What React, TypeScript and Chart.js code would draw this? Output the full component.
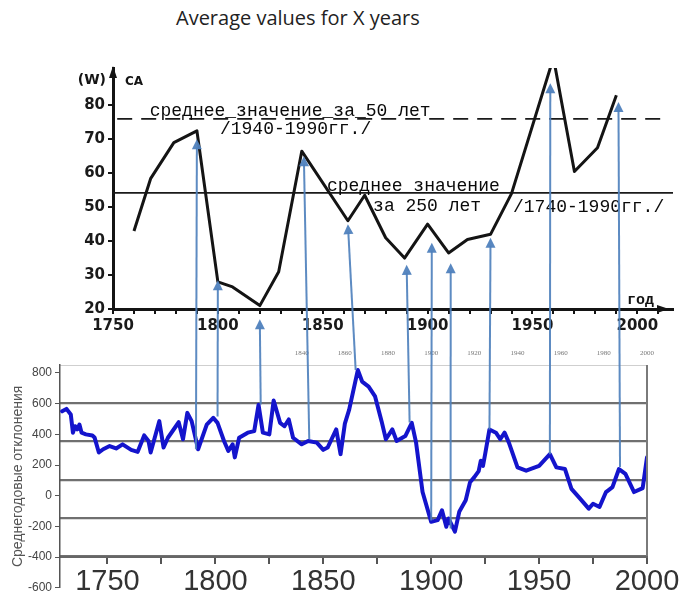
import React, { useEffect, useRef } from 'react';
import { Chart, registerables } from 'chart.js';

Chart.register(...registerables);

// Upper panel: solar activity index (W), polyline vertices
const solarYears = [1760, 1768, 1779, 1790, 1800, 1807, 1820, 1829, 1840, 1862, 1870, 1880, 1889, 1900, 1910, 1919, 1930, 1940, 1960, 1970, 1981, 1990];
const solarValues = [43, 58.5, 69, 72.5, 28, 26.5, 21, 31, 66.5, 46, 53.5, 41, 35, 45, 36.5, 40.5, 42, 54, 94, 60.5, 67.5, 83];

// Reference levels of the upper panel
const avg50 = 76;
const avg250 = 54.2;

// Upper panel axis labels
const topYearLabels = [1750, 1800, 1850, 1900, 1950, 2000];
const topValueLabels = [20, 30, 40, 50, 60, 70, 80];

// Upper panel captions
const noteTexts = ['среднее_значение_за_50 лет', '/1940-1990гг./', 'среднее значение', 'за 250 лет', '/1740-1990гг./'];
const noteYears = [1767.5, 1801, 1852, 1874, 1940.7];
const noteValues = [76.9, 71.6, 54.8, 48.9, 48.6];

// Lower panel: mean annual deviations
const devYears = [1729, 1731, 1733, 1734, 1735, 1736, 1737, 1738, 1740, 1743, 1744, 1746, 1748, 1751, 1754, 1757, 1761, 1764, 1767, 1769, 1770, 1774, 1776, 1778, 1783, 1785, 1787, 1789, 1792, 1796, 1799, 1801, 1804, 1806, 1808, 1809, 1811, 1815, 1818, 1820, 1822, 1825, 1827, 1830, 1832, 1834, 1836, 1840, 1843, 1847, 1850, 1852, 1856, 1858, 1860, 1862, 1866, 1868, 1871, 1874, 1877, 1879, 1882, 1884, 1888, 1891, 1893, 1896, 1900, 1903, 1905, 1907, 1908, 1911, 1913, 1916, 1918, 1920, 1922, 1923, 1924, 1925, 1927, 1930, 1932, 1934, 1936, 1940, 1944, 1950, 1955, 1958, 1962, 1965, 1969, 1973, 1975, 1978, 1981, 1984, 1987, 1990, 1994, 1998, 2000];
const devValues = [550, 566, 529, 411, 453, 432, 464, 411, 400, 393, 380, 282, 303, 324, 308, 335, 299, 286, 393, 357, 282, 486, 314, 378, 479, 368, 540, 486, 303, 464, 508, 475, 357, 292, 335, 250, 378, 411, 421, 593, 411, 400, 621, 475, 453, 497, 378, 335, 357, 346, 299, 314, 432, 271, 470, 561, 819, 744, 711, 647, 486, 368, 432, 357, 389, 475, 346, 24, -170, -159, -95, -202, -148, -234, -105, -30, 88, 121, 160, 228, 195, 271, 432, 411, 368, 411, 346, 185, 163, 195, 271, 185, 174, 45, -19, -84, -52, -73, 24, 56, 174, 142, 24, 50, 250];

// Lower panel axis labels
const bottomYearLabels = [1750, 1800, 1850, 1900, 1950, 2000];
const bottomValueLabels = [-600, -400, -200, 0, 200, 400, 600, 800];
const smallYearLabels = [1840, 1860, 1880, 1900, 1920, 1940, 1960, 1980, 2000];

// Links: from a point of the lower curve to a point of the upper curve
const linkBaseYears = [1791, 1801, 1821, 1843.5, 1865, 1890, 1900, 1909, 1927, 1955, 1987.5];
const linkBaseValues = [303, 516, 594, 368, 819, 477, -161, -213, 432, 271, 187];
const linkTipYears = [1790, 1800, 1820, 1841, 1862, 1890, 1902, 1911, 1930, 1958.5, 1991];
const linkTipValues = [70, 28.5, 17, 65, 45, 33, 39.5, 33.5, 41, 86.5, 81];

const range = (a: number, b: number, step: number) => {
  const out: number[] = [];
  for (let v = a; v <= b; v += step) out.push(v);
  return out;
};

function filledTriangle(ctx: CanvasRenderingContext2D, tx: number, ty: number, angle: number, len: number, half: number) {
  const bx = tx - Math.cos(angle) * len;
  const by = ty - Math.sin(angle) * len;
  const nx = -Math.sin(angle) * half;
  const ny = Math.cos(angle) * half;
  ctx.beginPath();
  ctx.moveTo(tx, ty);
  ctx.lineTo(bx + nx, by + ny);
  ctx.lineTo(bx - nx, by - ny);
  ctx.closePath();
  ctx.fill();
}

const topDecor = {
  id: 'topDecor',
  afterDraw(chart: any) {
    const { ctx, chartArea } = chart;
    const xs = chart.scales.x;
    const ys = chart.scales.y;
    ctx.save();
    ctx.fillStyle = '#141414';
    // axis arrow heads
    filledTriangle(ctx, xs.left, chartArea.top - 2, -Math.PI / 2, 12, 4);
    filledTriangle(ctx, chartArea.right - 4, ys.bottom, 0, 12, 4);
    // axis captions
    ctx.font = 'bold 14px "DejaVu Sans"';
    ctx.textAlign = 'right';
    ctx.textBaseline = 'alphabetic';
    ctx.fillText('(W)', xs.left - 7, chartArea.top + 16);
    ctx.font = 'bold 12px "DejaVu Sans"';
    ctx.textAlign = 'left';
    ctx.fillText('CA', xs.left + 12, chartArea.top + 17);
    ctx.font = 'bold 15px "Liberation Mono"';
    ctx.fillText('год', chartArea.right - 46, ys.bottom - 5);
    // captions of the reference levels
    ctx.fillStyle = '#0a0a0a';
    ctx.font = '18px "Liberation Mono"';
    noteTexts.forEach((t, i) => {
      ctx.fillText(t, xs.getPixelForValue(noteYears[i]), ys.getPixelForValue(noteValues[i]));
    });
    ctx.restore();
  },
};

function makeLinks(getTop: () => Chart | null) {
  return {
    id: 'links',
    afterDraw(chart: any) {
      const top: any = getTop();
      if (!top) return;
      const { ctx } = chart;
      const bx = chart.scales.x;
      const by = chart.scales.y;
      const tx = top.scales.x;
      const ty = top.scales.y;
      ctx.save();
      ctx.strokeStyle = 'rgba(79,129,189,0.92)';
      ctx.fillStyle = 'rgba(79,129,189,0.95)';
      ctx.lineWidth = 2;
      for (let i = 0; i < linkBaseYears.length; i++) {
        const x1 = bx.getPixelForValue(linkBaseYears[i]);
        const y1 = by.getPixelForValue(linkBaseValues[i]);
        const x2 = tx.getPixelForValue(linkTipYears[i]);
        const y2 = ty.getPixelForValue(linkTipValues[i]);
        const ang = Math.atan2(y2 - y1, x2 - x1);
        ctx.beginPath();
        ctx.moveTo(x1, y1);
        ctx.lineTo(x2 - Math.cos(ang) * 8, y2 - Math.sin(ang) * 8);
        ctx.stroke();
        filledTriangle(ctx, x2, y2, ang, 10, 5);
      }
      ctx.restore();
    },
  };
}

const bottomFrame = {
  id: 'bottomFrame',
  afterDatasetsDraw(chart: any) {
    const { ctx } = chart;
    const g = chart.scales.y2;
    const xr = chart.scales.x.right;
    ctx.save();
    ctx.strokeStyle = '#7a7a7a';
    ctx.lineWidth = 2;
    ctx.beginPath();
    ctx.moveTo(xr, g.getPixelForValue(5));
    ctx.lineTo(xr, g.getPixelForValue(0));
    ctx.stroke();
    ctx.restore();
  },
};

export default function App() {
  const topRef = useRef<HTMLCanvasElement>(null);
  const botRef = useRef<HTMLCanvasElement>(null);

  useEffect(() => {
    document.body.style.margin = '0';
    let topChart: Chart | null = null;

    topChart = new Chart(topRef.current!, {
      type: 'line',
      data: {
        datasets: [
          {
            data: solarYears.map((x, i) => ({ x, y: solarValues[i] })),
            borderColor: '#141414',
            borderWidth: 3,
            pointRadius: 0,
            tension: 0,
            borderJoinStyle: 'round',
          },
          {
            data: [{ x: 1752, y: avg50 }, { x: 2015, y: avg50 }],
            borderColor: '#1a1a1a',
            borderWidth: 1.8,
            borderDash: [15, 9],
            pointRadius: 0,
          },
          {
            data: [{ x: 1750, y: avg250 }, { x: 2017, y: avg250 }],
            borderColor: '#1a1a1a',
            borderWidth: 1.8,
            pointRadius: 0,
          },
        ],
      } as any,
      options: {
        responsive: false,
        animation: false,
        layout: { padding: { left: 63, top: 68, right: 14, bottom: 259 } },
        plugins: { legend: { display: false }, tooltip: { enabled: false } },
        scales: {
          x: {
            type: 'linear',
            min: 1750,
            max: 2017,
            afterBuildTicks: (s: any) => { s.ticks = range(1750, 2010, 10).map((value) => ({ value })); },
            afterFit: (s: any) => { s.height = 30; },
            ticks: {
              autoSkip: false,
              maxRotation: 0,
              padding: 3,
              color: '#1a1a1a',
              font: { family: 'DejaVu Sans', weight: 'bold', size: 15 },
              callback: (v: any) => (topYearLabels.includes(v) ? String(v) : ''),
            },
            grid: { drawOnChartArea: false, tickLength: 5, color: '#141414', lineWidth: 2 },
            border: { color: '#141414', width: 3 },
          },
          y: {
            type: 'linear',
            min: 20,
            max: 91,
            afterBuildTicks: (s: any) => { s.ticks = topValueLabels.map((value) => ({ value })); },
            afterFit: (s: any) => { s.width = 50; },
            ticks: {
              padding: 3,
              color: '#1a1a1a',
              font: { family: 'DejaVu Sans', weight: 'bold', size: 15 },
              callback: (v: any) => String(v),
            },
            grid: { drawOnChartArea: false, tickLength: 5, color: '#141414', lineWidth: 2 },
            border: { color: '#141414', width: 3 },
          },
        },
      } as any,
      plugins: [topDecor],
    });

    const botChart = new Chart(botRef.current!, {
      type: 'line',
      data: {
        datasets: [
          {
            data: devYears.map((x, i) => ({ x, y: devValues[i] })),
            xAxisID: 'x',
            yAxisID: 'y',
            borderColor: '#1414cc',
            borderWidth: 4,
            pointRadius: 0,
            tension: 0,
            borderJoinStyle: 'round',
            borderCapStyle: 'round',
          },
        ],
      } as any,
      options: {
        responsive: false,
        animation: false,
        layout: { padding: { left: 0, top: 351, right: 40, bottom: 8 } },
        plugins: { legend: { display: false }, tooltip: { enabled: false } },
        scales: {
          x: {
            type: 'linear',
            min: 1728,
            max: 2000,
            position: { y: -400 },
            afterBuildTicks: (s: any) => { s.ticks = range(1750, 2000, 25).map((value) => ({ value })); },
            ticks: {
              autoSkip: false,
              maxRotation: 0,
              padding: 1,
              color: '#333',
              font: { family: 'Liberation Sans', size: 29 },
              callback: (v: any) => (bottomYearLabels.includes(v) ? String(v) : ''),
            },
            grid: { drawOnChartArea: false, tickLength: 6, color: '#555', lineWidth: 2 },
            border: { color: '#666', width: 2 },
          },
          x2: {
            type: 'linear',
            position: 'top',
            min: 1728,
            max: 2000,
            afterBuildTicks: (s: any) => { s.ticks = smallYearLabels.map((value) => ({ value })); },
            afterFit: (s: any) => { s.height = 14; },
            ticks: {
              autoSkip: false,
              maxRotation: 0,
              padding: 8,
              color: '#777',
              font: { family: 'Liberation Serif', size: 7 },
              callback: (v: any) => String(v),
            },
            grid: { display: false, drawTicks: false },
            border: { display: false },
          },
          y: {
            type: 'linear',
            position: 'left',
            min: -600,
            max: 852,
            afterBuildTicks: (s: any) => { s.ticks = range(-600, 800, 100).map((value) => ({ value })); },
            afterFit: (s: any) => { s.width = 60; },
            ticks: {
              padding: 3,
              color: '#444',
              font: { family: 'Liberation Sans', size: 12 },
              callback: (v: any) => (bottomValueLabels.includes(v) ? String(v) : ''),
            },
            grid: { drawOnChartArea: false, tickLength: 5, color: '#555' },
            border: { color: '#555', width: 1.5 },
            title: {
              display: true,
              text: 'Среднегодовые отклонения',
              color: '#555',
              font: { family: 'Liberation Sans', size: 14 },
              padding: { top: 10, bottom: 0 },
            },
          },
          y2: {
            type: 'linear',
            position: 'right',
            min: -0.83,
            max: 5,
            afterBuildTicks: (s: any) => { s.ticks = [0, 1, 2, 3, 4, 5].map((value) => ({ value })); },
            afterFit: (s: any) => { s.width = 0; },
            ticks: { display: false },
            grid: {
              drawTicks: false,
              color: (c: any) => (c.tick && c.tick.value === 5 ? '#cfcfcf' : '#707070'),
              lineWidth: (c: any) => (c.tick && c.tick.value === 5 ? 1 : 2.2),
            },
            border: { display: false },
          },
        },
      } as any,
      plugins: [bottomFrame, makeLinks(() => topChart)],
    });

    return () => {
      botChart.destroy();
      topChart?.destroy();
    };
  }, []);

  return (
    <div style={{ position: 'relative', width: 687, height: 598, background: '#fff', overflow: 'hidden' }}>
      <div
        style={{
          position: 'absolute',
          left: 176,
          top: 4,
          fontFamily: '"Open Sans", sans-serif',
          fontSize: 20,
          lineHeight: '28px',
          color: '#222',
          whiteSpace: 'nowrap',
        }}
      >
        Average values for X years
      </div>
      <canvas ref={topRef} width={687} height={598} style={{ position: 'absolute', left: 0, top: 0 }} />
      <canvas ref={botRef} width={687} height={598} style={{ position: 'absolute', left: 0, top: 0 }} />
    </div>
  );
}
